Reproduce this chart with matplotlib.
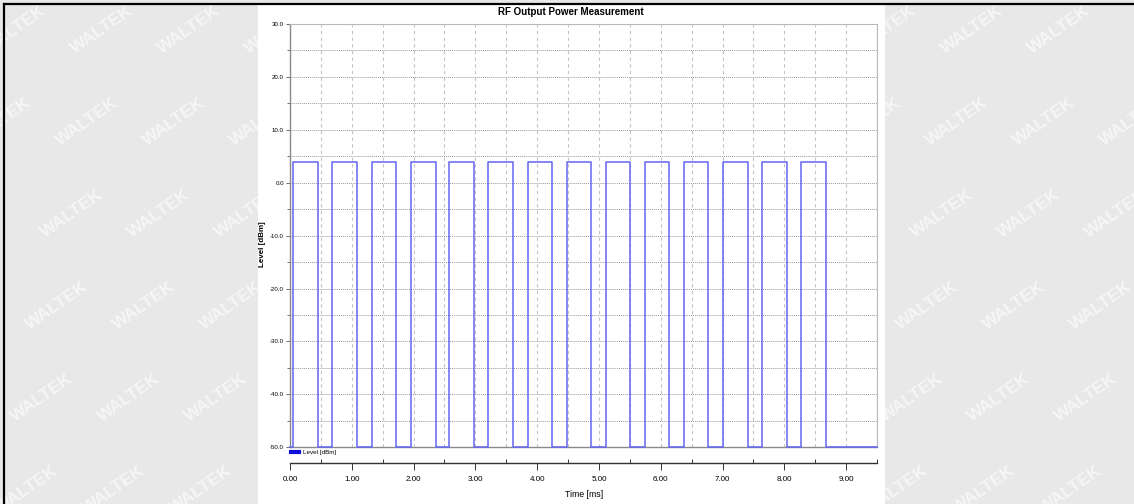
import matplotlib
matplotlib.use("Agg")
import matplotlib.pyplot as plt
from matplotlib.lines import Line2D
from matplotlib.patches import Rectangle
from matplotlib.ticker import MultipleLocator, FormatStrFormatter

# ---------------- data ----------------
pulse_on_ms = [0.044, 0.684, 1.322, 1.953, 2.578, 3.209, 3.846,
               4.477, 5.108, 5.744, 6.375, 7.002, 7.642, 8.273]
pulse_off_ms = [0.448, 1.079, 1.715, 2.358, 2.982, 3.613, 4.244,
                4.871, 5.502, 6.138, 6.769, 7.406, 8.037, 8.673]
high_dbm = 4.0
low_dbm = -50.0
t_start_ms = 0.0
t_end_ms = 9.5
series_label = "Level [dBm]"
title = "RF Output Power Measurement"
x_label = "Time [ms]"
y_label = "Level [dBm]"
watermark = "WALTEK"

# build step trace from the edges
t = [t_start_ms]
lv = [low_dbm]
for on, off in zip(pulse_on_ms, pulse_off_ms):
    t += [on, on, off, off]
    lv += [low_dbm, high_dbm, high_dbm, low_dbm]
t.append(t_end_ms)
lv.append(low_dbm)

FONT = ["Liberation Sans", "DejaVu Sans"]

W, H = 1134, 504
fig = plt.figure(figsize=(W / 100, H / 100), dpi=100, facecolor="#e8e8e8")

# watermarks in the grey margins (hidden part under white panel omitted)
for row in range(7):
    y = 30 + row * 92
    x0 = 15 - 15 * row
    for k in range(-2, 15):
        x = x0 + 87 * k
        if x < -10 or x > W + 10:
            continue
        if 285 < x < 860:
            continue
        fig.text(x / W, 1 - y / H, watermark, color="white", alpha=0.6,
                 fontsize=12.5, fontweight="bold", rotation=35,
                 family=FONT, ha="center", va="center", zorder=-3)

# white report panel
fig.patches.append(Rectangle((258 / W, 0), (885 - 258) / W, 1 - 5 / H,
                             transform=fig.transFigure, facecolor="white",
                             edgecolor="none", zorder=-1))
# black page border lines
fig.lines.append(Line2D([4 / W, 1], [1 - 4 / H, 1 - 4 / H],
                        transform=fig.transFigure, color="black", lw=1.6, zorder=5))
fig.lines.append(Line2D([4 / W, 4 / W], [0, 1 - 4 / H],
                        transform=fig.transFigure, color="black", lw=1.6, zorder=5))

ax = fig.add_axes([290 / W, 1 - 447.3 / H, 587 / W, 423.3 / H])
ax.set_facecolor("white")
ax.set_xlim(t_start_ms, t_end_ms)
ax.set_ylim(-50, 30)

ax.plot(t, lv, color="#6464f2", lw=1.1, label=series_label, clip_on=False, zorder=3)

# grid
ax.yaxis.set_major_locator(MultipleLocator(10))
ax.yaxis.set_minor_locator(MultipleLocator(5))
ax.xaxis.set_major_locator(MultipleLocator(1))
ax.xaxis.set_minor_locator(MultipleLocator(0.5))
ax.grid(True, which="both", axis="y", color="#9a9a9a", lw=0.7, ls=(0, (1, 1)))
ax.grid(True, which="both", axis="x", color="#c4c4c4", lw=0.8, ls=(0, (3, 3)))
ax.set_axisbelow(True)

for s in ["top", "right"]:
    ax.spines[s].set_color("#b8b8b8")
    ax.spines[s].set_linewidth(0.8)
ax.spines["left"].set_color("#8a8a8a")
ax.spines["left"].set_linewidth(1.0)
ax.spines["bottom"].set_color("#8a8a8a")
ax.spines["bottom"].set_linewidth(1.0)

ax.yaxis.set_major_formatter(FormatStrFormatter("%.1f"))
ax.tick_params(axis="y", which="major", length=3, width=0.6, color="#555555",
               labelsize=4.4, pad=1.5)
ax.tick_params(axis="y", which="minor", length=2, width=0.6, color="#555555")
for lab in ax.get_yticklabels():
    lab.set_family(FONT)
ax.tick_params(axis="x", which="both", bottom=False, labelbottom=False)

# separate time axis below the plot
sec = ax.secondary_xaxis(-16 / 423.3)
sec.xaxis.set_major_locator(MultipleLocator(1))
sec.xaxis.set_minor_locator(MultipleLocator(0.5))
sec.xaxis.set_major_formatter(FormatStrFormatter("%.2f"))
sec.spines["bottom"].set_color("#333333")
sec.spines["bottom"].set_linewidth(1.0)
sec.tick_params(axis="x", which="major", direction="out", length=5, width=0.7,
                color="#333333", labelsize=5.8, pad=4)
sec.tick_params(axis="x", which="minor", direction="in", length=3, width=0.7,
                color="#333333")
for lab in sec.get_xticklabels():
    lab.set_family(FONT)
sec.set_xlabel(x_label, family=FONT, fontsize=6.3, labelpad=5)
sec.xaxis.label.set_x((584 - 290) / 587)

ax.set_ylabel(y_label, family=FONT, fontsize=5.8, fontweight="bold")
ax.yaxis.set_label_coords((266 - 290) / 587, 0.48)
ax.set_title(title, family=FONT, fontsize=7, fontweight="bold", pad=6.8,
             x=(571 - 290) / 587)

leg_handle = Line2D([], [], color="#1010dd", lw=3)
ax.legend([leg_handle], [series_label], loc="upper left",
          bbox_to_anchor=(0.0, -0.004), frameon=False,
          handlelength=1.3, handletextpad=0.7, borderaxespad=0.0,
          borderpad=0.1, prop={"family": FONT, "size": 4.5})

fig.savefig("out.png", dpi=100, facecolor=fig.get_facecolor())
